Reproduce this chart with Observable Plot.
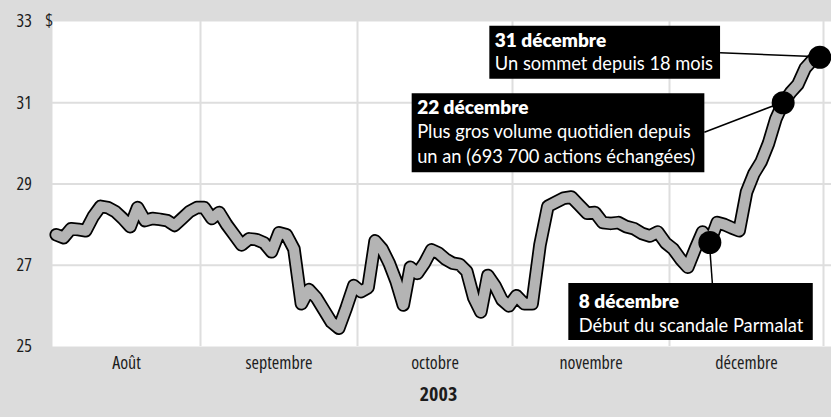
<!DOCTYPE html>
<html><head><meta charset="utf-8">
<script src="https://cdn.jsdelivr.net/npm/d3@7"></script>
<script src="https://cdn.jsdelivr.net/npm/@observablehq/plot@0.6"></script>
<style>
html,body{margin:0;padding:0;background:#dcdcdc;}
#chart svg{display:block;}
</style></head><body>
<div id="chart"></div>
<script>
// ---- data ----
const months = ["Août", "septembre", "octobre", "novembre", "décembre"];
const aout = [27.75, 27.68, 27.9, 27.88, 27.85, 28.2, 28.45, 28.42, 28.32, 28.15, 27.95, 28.42, 28.1, 28.15, 28.13, 28.1, 27.98, 28.15, 28.32, 28.42];
const septembre = [28.42, 28.15, 28.3, 28.0, 27.75, 27.5, 27.65, 27.63, 27.55, 27.33, 27.8, 27.75, 27.4, 26.05, 26.4, 26.2, 25.9, 25.6, 25.45, 25.95, 26.5];
const octobre = [26.35, 26.45, 27.6, 27.4, 27.05, 26.6, 26.02, 26.95, 26.8, 27.05, 27.38, 27.3, 27.15, 27.05, 27.02, 26.85, 26.2, 25.85, 26.75, 26.5, 26.15, 26.0];
const novembre = [26.25, 26.05, 26.05, 27.5, 28.45, 28.55, 28.65, 28.68, 28.48, 28.28, 28.3, 28.05, 28.03, 28.05, 27.95, 27.9, 27.78, 27.72, 27.82, 27.55];
const decembre = [27.4, 27.15, 26.95, 27.4, 27.82, 27.56, 28.05, 28.0, 27.92, 27.85, 28.8, 29.25, 29.55, 30.0, 30.6, 31.0, 31.25, 31.45, 31.85, 32.05, 32.12];
const yTicks = [25, 27, 29, 31, 33];
const yGrid = [27, 29, 31];
const monthBounds = [1, 2, 3, 4, 5];
const yearLabel = "2003";
const annotMonth = [4, 4, 4];
const annotDay = [5, 15, 20];
const annotTitle = ["8 décembre", "22 décembre", "31 décembre"];
const annotBody = [
  ["Début du scandale Parmalat"],
  ["Plus gros volume quotidien depuis", "un an (693 700 actions échangées)"],
  ["Un sommet depuis 18 mois"]
];

// ---- derived tables ----
const series = [aout, septembre, octobre, novembre, decembre];
const data = series.flatMap((vals, m) => vals.map((v, i) => ({x: m + (i + 0.5) / vals.length, y: v})));
const annots = annotMonth.map((m, k) => ({
  x: m + (annotDay[k] + 0.5) / series[m].length,
  y: series[m][annotDay[k]],
  title: annotTitle[k],
  body: annotBody[k]
}));

// ---- layout (offsets from each annotated point, in px) ----
const layout = [
  {dx: -131, titleDy: 65, lineH: 24, padL: 10, padR: 9, top: 41, bottom: 98, leader: "top", leaderOff: 3},
  {dx: -366, titleDy: 11, lineH: 24.5, padL: 5, padR: 9, top: -9, bottom: 70, leader: "right", leaderOff: 30},
  {dx: -325, titleDy: -10, lineH: 22.5, padL: 5, padR: 7, top: -31, bottom: 22, leader: "right", leaderOff: -4}
];
const annoFont = "Lato, 'Open Sans', sans-serif";
const axisFill = "#1c1c1c";
const gridColor = "#dedede";

const annotMarks = annots.flatMap((a, k) => {
  const L = layout[k];
  const lines = [{t: a.title, bold: true}, ...a.body.map(t => ({t, bold: false}))];
  return lines.map((ln, j) => Plot.text([a], {
    x: "x", y: "y", text: () => ln.t,
    dx: L.dx, dy: L.titleDy + j * L.lineH,
    textAnchor: "start", lineAnchor: "bottom",
    fill: "white", fontFamily: annoFont,
    fontSize: ln.bold ? 19 : 18.3,
    letterSpacing: ln.bold ? 0 : 0.35,
    fontWeight: ln.bold ? 800 : 400
  }));
});

const chart = Plot.plot({
  width: 831,
  height: 417,
  marginLeft: 52,
  marginRight: 0,
  marginTop: 21,
  marginBottom: 71,
  style: {
    background: "#dcdcdc",
    fontFamily: "'Open Sans', sans-serif",
    fontStretch: "75%",
    fontSize: "18px"
  },
  x: {type: "linear", domain: [0, 1, 2, 3, 4, 5, 5.052], range: [52, 200, 357, 512, 669, 823, 831]},
  y: {domain: [25, 33]},
  marks: [
    Plot.frame({fill: "white", stroke: null}),
    Plot.ruleY(yGrid, {stroke: gridColor, strokeWidth: 2}),
    Plot.ruleX(monthBounds, {stroke: gridColor, strokeWidth: 2}),
    Plot.axisY({
      ticks: yTicks, tickSize: 0, tickPadding: 3, textAnchor: "start", dx: -33,
      tickFormat: d => d === 33 ? "33\u00a0\u00a0\u00a0\u00a0$" : String(d),
      fill: axisFill, fontSize: 18, label: null
    }),
    Plot.axisX({
      ticks: months.map((_, i) => i + 0.5),
      tickFormat: d => months[Math.floor(d)],
      tickSize: 0, tickPadding: 10, fill: axisFill, fontSize: 18, label: null
    }),
    Plot.text([yearLabel], {text: d => d, frameAnchor: "bottom", lineAnchor: "bottom", dy: 54, dx: -3.5, fontWeight: "bold", fontSize: 20, fill: axisFill}),
    Plot.line(data, {x: "x", y: "y", stroke: "black", strokeWidth: 13.5, strokeLinejoin: "round", strokeLinecap: "round"}),
    Plot.line(data, {x: "x", y: "y", stroke: "#b4b4b4", strokeWidth: 10, strokeLinejoin: "round", strokeLinecap: "round"}),
    Plot.dot(annots, {x: "x", y: "y", r: 11.5, fill: "black"}),
    ...annotMarks
  ]
});
document.getElementById("chart").append(chart);

// ---- black boxes + leader lines behind the annotation text ----
(function drawBoxes() {
  const ns = "http://www.w3.org/2000/svg";
  const xs = chart.scale("x"), ys = chart.scale("y");
  const sr = chart.getBoundingClientRect();
  const allText = Array.from(chart.querySelectorAll("text"));
  const g = document.createElementNS(ns, "g");
  annots.forEach((a, k) => {
    const L = layout[k];
    const px = xs.apply(a.x), py = ys.apply(a.y);
    const wanted = new Set([a.title, ...a.body]);
    let right = -Infinity;
    allText.filter(t => wanted.has(t.textContent)).forEach(t => {
      right = Math.max(right, t.getBoundingClientRect().right - sr.left);
    });
    const left = px + L.dx - L.padL;
    right += L.padR;
    const top = py + L.top, bottom = py + L.bottom;
    const line = document.createElementNS(ns, "line");
    let lx, ly;
    if (L.leader === "top") { lx = px + L.leaderOff; ly = top; }
    else { lx = right; ly = py + L.leaderOff; }
    line.setAttribute("x1", lx); line.setAttribute("y1", ly);
    line.setAttribute("x2", px); line.setAttribute("y2", py);
    line.setAttribute("stroke", "black"); line.setAttribute("stroke-width", 1.5);
    g.append(line);
    const rect = document.createElementNS(ns, "rect");
    rect.setAttribute("x", left); rect.setAttribute("y", top);
    rect.setAttribute("width", Math.max(0, right - left)); rect.setAttribute("height", bottom - top);
    rect.setAttribute("fill", "black");
    g.append(rect);
  });
  const dot = chart.querySelector("circle");
  const dotGroup = dot ? dot.parentNode : null;
  if (dotGroup && dotGroup.parentNode === chart) chart.insertBefore(g, dotGroup);
  else chart.append(g);
})();
</script>
</body></html>
